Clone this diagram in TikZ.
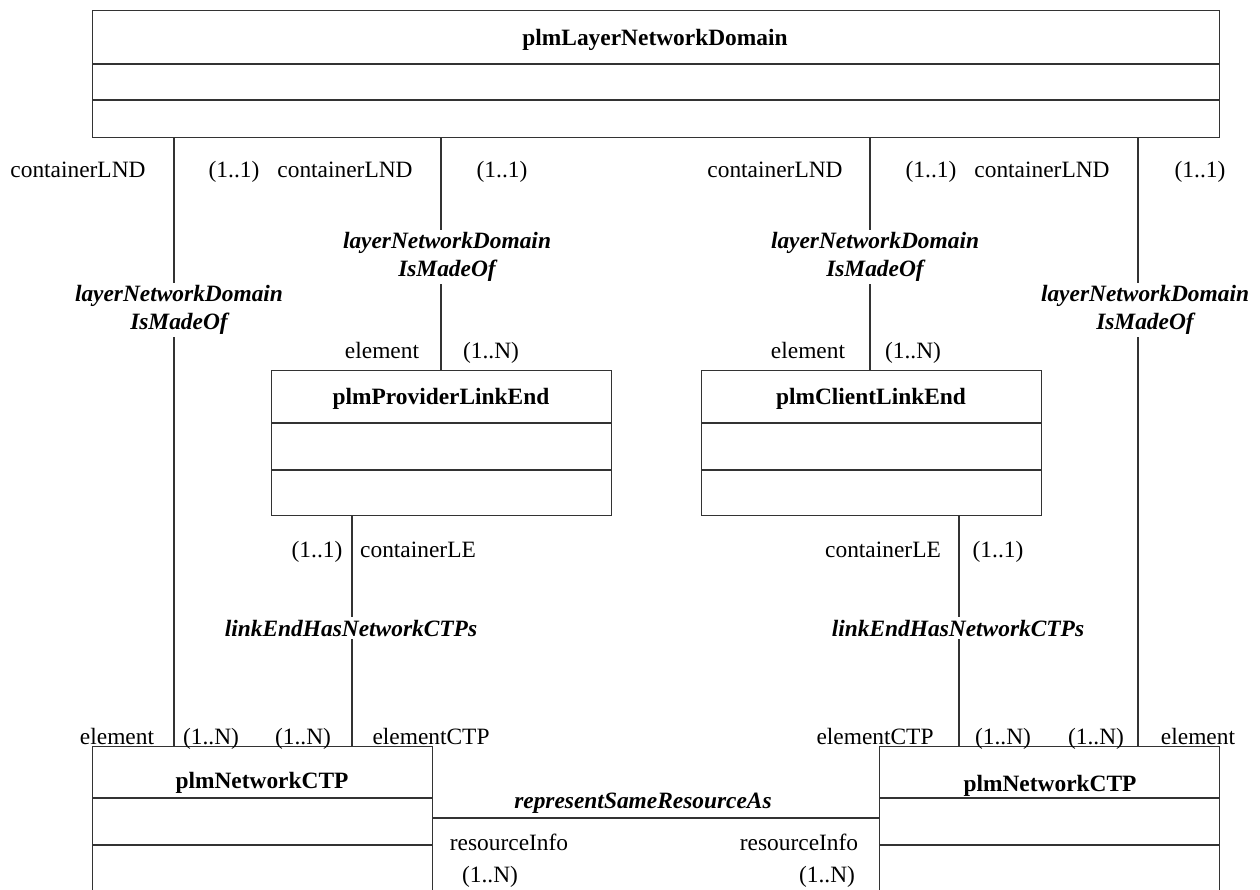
\documentclass[tikz,border=0pt]{standalone}
\usepackage{fontspec}
\setmainfont{Liberation Serif}
\begin{document}
\begin{tikzpicture}[x=1pt,y=-1pt,
  every node/.style={font=\fontsize{23.4}{27.5}\selectfont, inner sep=0pt},
  box/.style={draw=black!80, line width=1.4pt, anchor=north west, inner sep=0pt},
  title/.style={font=\fontsize{23.4}{27.5}\selectfont\bfseries, anchor=base},
  lbl/.style={anchor=base},
  assoc/.style={font=\fontsize{23.4}{27.5}\selectfont\bfseries\itshape, align=center, fill=white, inner sep=3pt},
  conn/.style={draw=black!80, line width=1.2pt},
  div/.style={draw=black!80, line width=1.4pt}]
\clip (0,0) rectangle (1260,890);
\fill[white] (0,0) rectangle (1260,890);

% classes
\node[box, minimum width=1127pt, minimum height=127pt] (lnd) at (92,10) {};
\node[box, minimum width=340pt, minimum height=145pt] (ple) at (271,370) {};
\node[box, minimum width=340pt, minimum height=145pt] (cle) at (701,370) {};
\node[box, minimum width=340pt, minimum height=200pt] (ctpL) at (92,746) {};
\node[box, minimum width=340pt, minimum height=200pt] (ctpR) at (879,746) {};

% compartments
\draw[div] ([yshift=-54pt]lnd.north west) -- ([yshift=-54pt]lnd.north east);
\draw[div] ([yshift=-90pt]lnd.north west) -- ([yshift=-90pt]lnd.north east);
\foreach \b in {ple,cle}{
  \draw[div] ([yshift=-53pt]\b.north west) -- ([yshift=-53pt]\b.north east);
  \draw[div] ([yshift=-100pt]\b.north west) -- ([yshift=-100pt]\b.north east);
}
\foreach \b in {ctpL,ctpR}{
  \draw[div] ([yshift=-52pt]\b.north west) -- ([yshift=-52pt]\b.north east);
  \draw[div] ([yshift=-99pt]\b.north west) -- ([yshift=-99pt]\b.north east);
}

% titles
\node[title] (tLnd) at (655,46) {plmLayerNetworkDomain};
\node[title] (tPle) at (441,404) {plmProviderLinkEnd};
\node[title] (tCle) at (871,404) {plmClientLinkEnd};
\node[title] (tCtpL) at (262,788) {plmNetworkCTP};
\node[title] (tCtpR) at (1050,791) {plmNetworkCTP};

% connector x positions
\coordinate (x1) at (174,0);
\coordinate (x2) at (441,0);
\coordinate (x3) at (870,0);
\coordinate (x4) at (1138,0);
\coordinate (x5) at (352,0);
\coordinate (x6) at (959,0);
\coordinate (ay) at (0,818);

% connectors
\draw[conn] (x1 |- lnd.south) -- (x1 |- ctpL.north);
\draw[conn] (x2 |- lnd.south) -- (x2 |- ple.north);
\draw[conn] (x3 |- lnd.south) -- (x3 |- cle.north);
\draw[conn] (x4 |- lnd.south) -- (x4 |- ctpR.north);
\draw[conn] (x5 |- ple.south) -- (x5 |- ctpL.north);
\draw[conn] (x6 |- cle.south) -- (x6 |- ctpR.north);
\draw[conn] (ctpL.east |- ay) -- (ctpR.west |- ay);

% association names
\node[assoc] (a1) at (179,310) {layerNetworkDomain\\IsMadeOf};
\node[assoc] (a2) at (447,257) {layerNetworkDomain\\IsMadeOf};
\node[assoc] (a3) at (875,257) {layerNetworkDomain\\IsMadeOf};
\node[assoc] (a4) at (1145,310) {layerNetworkDomain\\IsMadeOf};
\node[assoc, anchor=base] (a5) at (351,636) {linkEndHasNetworkCTPs};
\node[assoc, anchor=base] (a6) at (958,636) {linkEndHasNetworkCTPs};
\node[assoc, anchor=base, fill=none, inner sep=0pt] (a7) at (643,808) {representSameResourceAs};

% role names and multiplicities
\node[lbl] (r1) at (78,178) {containerLND};
\node[lbl] (m1) at (234,178) {(1..1)};
\node[lbl] (r2) at (345,178) {containerLND};
\node[lbl] (m2) at (502,178) {(1..1)};
\node[lbl] (r3) at (775,178) {containerLND};
\node[lbl] (m3) at (931,178) {(1..1)};
\node[lbl] (r4) at (1042,178) {containerLND};
\node[lbl] (m4) at (1200,178) {(1..1)};

\node[lbl] (r5) at (382,358) {element};
\node[lbl] (m5) at (491,358) {(1..N)};
\node[lbl] (r6) at (808,358) {element};
\node[lbl] (m6) at (913,358) {(1..N)};

\node[lbl] (m7) at (317,557) {(1..1)};
\node[lbl] (r7) at (418,557) {containerLE};
\node[lbl] (r8) at (883,557) {containerLE};
\node[lbl] (m8) at (998,557) {(1..1)};

\node[lbl] (r9) at (117,744) {element};
\node[lbl] (m9) at (211,744) {(1..N)};
\node[lbl] (m10) at (303,744) {(1..N)};
\node[lbl] (r10) at (431,744) {elementCTP};
\node[lbl] (r11) at (875,744) {elementCTP};
\node[lbl] (m11) at (1003,744) {(1..N)};
\node[lbl] (m12) at (1096,744) {(1..N)};
\node[lbl] (r12) at (1198,744) {element};

\node[lbl] (r13) at (509,850) {resourceInfo};
\node[lbl] (m13) at (490,882) {(1..N)};
\node[lbl] (r14) at (799,850) {resourceInfo};
\node[lbl] (m14) at (827,882) {(1..N)};
\end{tikzpicture}
\end{document}
